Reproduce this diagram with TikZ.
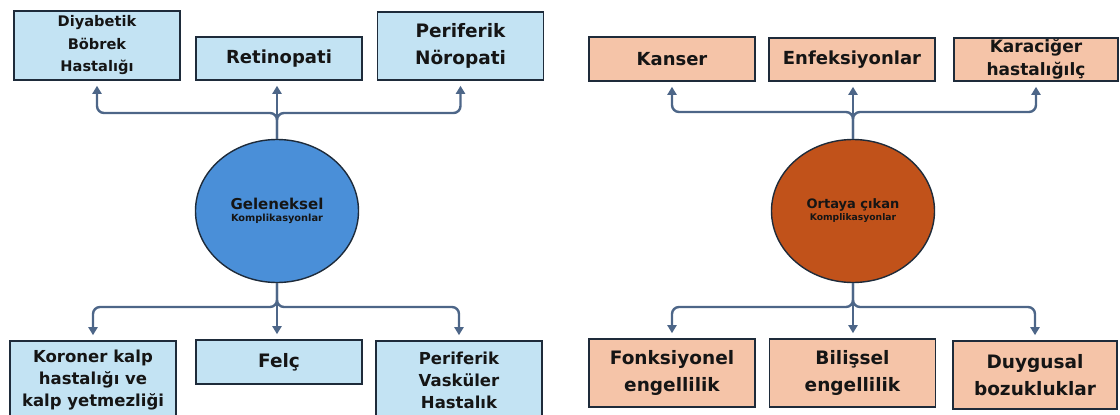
\documentclass[tikz,border=0pt]{standalone}
\usepackage{fontspec}
\setmainfont{DejaVu Sans}
\usetikzlibrary{shapes.geometric,arrows.meta,positioning}
\definecolor{lblue}{HTML}{C3E3F3}
\definecolor{mblue}{HTML}{4A8FD8}
\definecolor{lpeach}{HTML}{F5C4A8}
\definecolor{morange}{HTML}{C1521A}
\definecolor{edgec}{HTML}{1E2B3A}
\definecolor{connc}{HTML}{4D6688}
\definecolor{txtc}{HTML}{151515}

\begin{document}
\begin{tikzpicture}[x=1pt,y=-1pt,
  tbox/.style={draw=edgec, line width=1.6pt, text=txtc, align=center, inner sep=0pt, minimum width=166pt},
  bluebox/.style={tbox, fill=lblue},
  peachbox/.style={tbox, fill=lpeach},
  hub/.style={ellipse, draw=edgec, line width=1.4pt, minimum width=163pt, minimum height=143pt, inner sep=0pt, align=center, text=txtc, font=\bfseries},
  link/.style={draw=connc, line width=2.4pt, rounded corners=7pt},
  arr/.style={link, -{Triangle[width=9pt,length=8pt]}, shorten >=5pt},
  big/.style={font=\fontsize{18.5}{27}\selectfont\bfseries},
  mid/.style={font=\fontsize{16.5}{22}\selectfont\bfseries}]

\clip (0,0) rectangle (1120,415);

% Circles
\node[hub, fill=mblue] (gel) at (277,211) {\fontsize{15}{16.5}\selectfont Geleneksel\\ \fontsize{9.8}{12}\selectfont Komplikasyonlar};
\node[hub, fill=morange] (ort) at (853,211) {\fontsize{13}{16.5}\selectfont Ortaya çıkan\\ \fontsize{9.2}{12}\selectfont Komplikasyonlar};

% Left boxes
\node[bluebox, minimum height=69pt, font=\fontsize{14.6}{22.5}\selectfont\bfseries] (dbh) at (97,45.5) {Diyabetik\\Böbrek\\Hastalığı};
\node[bluebox, minimum height=43pt, font=\fontsize{18}{26}\selectfont\bfseries] (ret) at (279,58.5) {Retinopati};
\node[bluebox, minimum height=68pt, big] (pnr) at (460.5,46) {Periferik\\Nöropati};
\node[bluebox, minimum height=78pt, mid] (kkh) at (93,380) {Koroner kalp\\hastalığı ve\\kalp yetmezliği};
\node[bluebox, minimum height=44pt, font=\fontsize{18.5}{26}\selectfont\bfseries] (fel) at (279,362) {Felç};
\node[bluebox, minimum height=78pt, mid] (pvh) at (459,380) {Periferik\\Vasküler\\Hastalık};

% Right boxes
\node[peachbox, minimum height=44pt, font=\fontsize{18}{26}\selectfont\bfseries] (kan) at (672,59) {Kanser};
\node[peachbox, minimum height=43pt, font=\fontsize{18}{26}\selectfont\bfseries] (enf) at (852,59.5) {Enfeksiyonlar};
\node[peachbox, minimum width=164pt, minimum height=43pt, font=\fontsize{17}{23}\selectfont\bfseries] (kar) at (1036,59.5) {Karaciğer\\hastalığılç};
\node[peachbox, minimum height=68pt, big] (fon) at (672,373) {Fonksiyonel\\engellilik};
\node[peachbox, minimum height=68pt, big] (bil) at (852.5,373) {Bilişsel\\engellilik};
\node[peachbox, minimum width=164pt, minimum height=68pt, big] (duy) at (1035,375) {Duygusal\\bozukluklar};

% Forks
\coordinate (jtl) at (277,113);
\coordinate (jbl) at (277,307);
\coordinate (jtr) at (853,112);
\coordinate (jbr) at (853,307);

\draw[arr] (gel.north) -- (jtl) -| (dbh.south);
\draw[arr] (gel.north) -- (jtl) -| (pnr.south);
\draw[arr] (gel.north) -- (gel.north |- ret.south);
\draw[arr] (gel.south) -- (jbl) -| (kkh.north);
\draw[arr] (gel.south) -- (jbl) -| (pvh.north);
\draw[arr] (gel.south) -- (gel.south |- fel.north);

\draw[arr] (ort.north) -- (jtr) -| (kan.south);
\draw[arr] (ort.north) -- (jtr) -| (kar.south);
\draw[arr] (ort.north) -- (ort.north |- enf.south);
\draw[arr] (ort.south) -- (jbr) -| (fon.north);
\draw[arr] (ort.south) -- (jbr) -| (duy.north);
\draw[arr] (ort.south) -- (ort.south |- bil.north);

\end{tikzpicture}
\end{document}
